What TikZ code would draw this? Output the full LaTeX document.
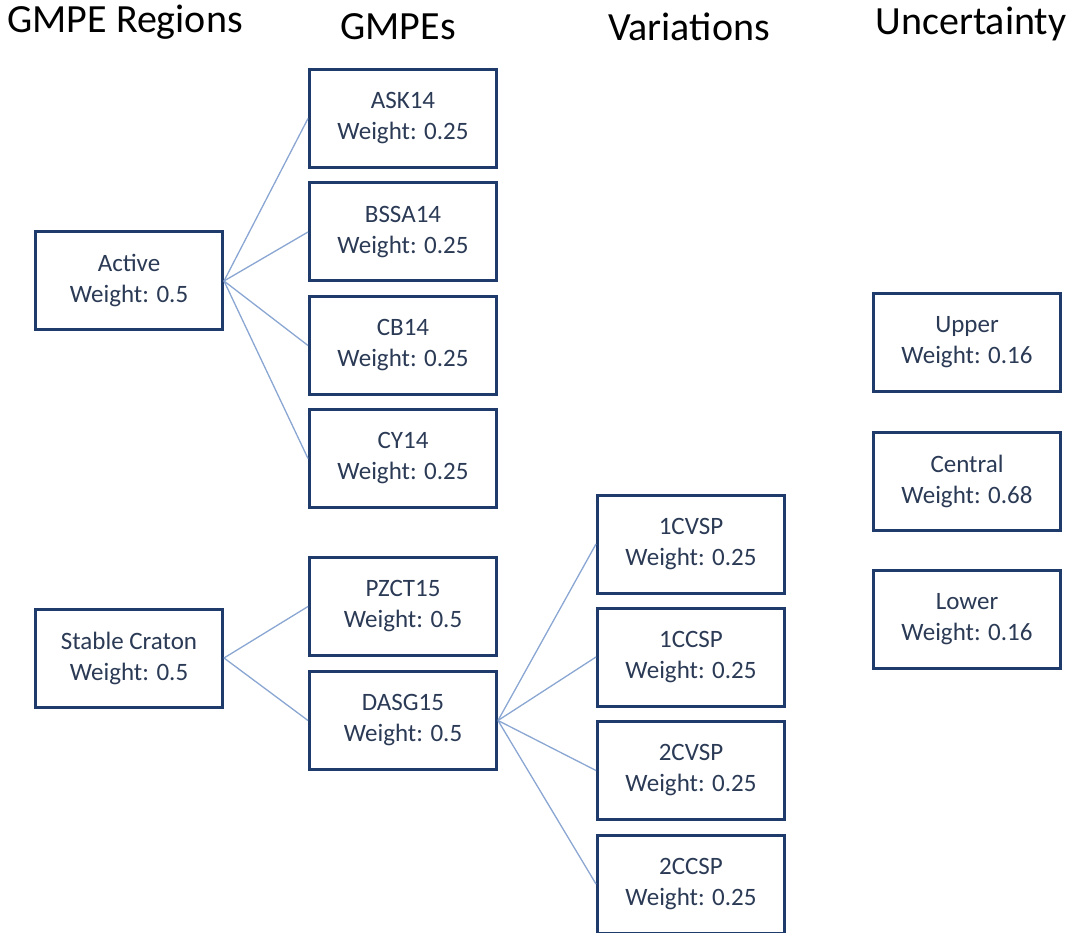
\documentclass[tikz,border=0pt]{standalone}
\usepackage{fontspec}
\setmainfont{Carlito}
\definecolor{boxline}{HTML}{1F3B6B}
\definecolor{boxtext}{HTML}{2B3A55}
\definecolor{conn}{HTML}{8AA6D2}
\begin{document}
\begin{tikzpicture}[x=1pt,y=-1pt,
  wbox/.style={draw=boxline,line width=3pt,fill=white,minimum width=187pt,minimum height=98pt,
    align=center,text=boxtext,font=\fontsize{25}{31}\selectfont,inner sep=0pt},
  hdr/.style={font=\fontsize{40}{46}\selectfont,text=black,anchor=center},
  link/.style={draw=conn,line width=1.3pt}]
\useasboundingbox (0,0) rectangle (1074,933);
\begin{scope}
\clip (0,0) rectangle (1074,933);
% headers
\node[hdr] (h1) at (125,22) {GMPE Regions};
\node[hdr] (h2) at (398,27) {GMPEs};
\node[hdr] (h3) at (689,27) {Variations};
\node[hdr] (h4) at (971,24) {Uncertainty};
% region boxes
\node[wbox] (active) at (129,281) {Active\\Weight: 0.5};
\node[wbox] (stable) at (129,658) {Stable Craton\\Weight: 0.5};
% GMPE boxes
\node[wbox] (ask) at (403,118.5) {ASK14\\Weight: 0.25};
\node[wbox] (bssa) at (403,232) {BSSA14\\Weight: 0.25};
\node[wbox] (cb) at (403,345.5) {CB14\\Weight: 0.25};
\node[wbox] (cy) at (403,458.5) {CY14\\Weight: 0.25};
\node[wbox] (pzct) at (403,606.5) {PZCT15\\Weight: 0.5};
\node[wbox] (dasg) at (403,720.5) {DASG15\\Weight: 0.5};
% variations
\node[wbox] (v1) at (691,544) {1CVSP\\Weight: 0.25};
\node[wbox] (v2) at (691,657) {1CCSP\\Weight: 0.25};
\node[wbox] (v3) at (691,770.5) {2CVSP\\Weight: 0.25};
\node[wbox] (v4) at (691,884) {2CCSP\\Weight: 0.25};
% uncertainty
\node[wbox] (up) at (967,342.5) {Upper\\Weight: 0.16};
\node[wbox] (cen) at (967,481.5) {Central\\Weight: 0.68};
\node[wbox] (low) at (967,619.5) {Lower\\Weight: 0.16};
% connectors
\foreach \c in {ask,bssa,cb,cy} \draw[link] (active.east) -- (\c.west);
\foreach \c in {pzct,dasg} \draw[link] (stable.east) -- (\c.west);
\foreach \c in {v1,v2,v3,v4} \draw[link] (dasg.east) -- (\c.west);
\end{scope}
\end{tikzpicture}
\end{document}
